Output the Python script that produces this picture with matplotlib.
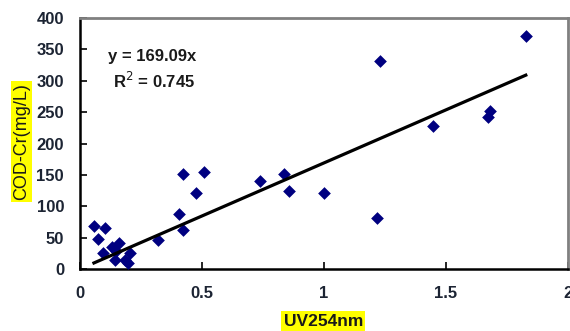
import matplotlib.pyplot as plt
import numpy as np

# UV254 absorbance vs COD-Cr (mg/L)
uv254 = [0.057, 0.102, 0.075, 0.096, 0.130, 0.161, 0.148, 0.143, 0.184, 0.205,
         0.198, 0.321, 0.406, 0.424, 0.424, 0.508, 0.474, 0.738, 0.837, 0.857,
         1.000, 1.219, 1.230, 1.448, 1.680, 1.671, 1.827]
cod = [69, 66, 48, 25, 35, 41, 28, 15, 14, 26,
       10, 47, 88, 62, 151, 155, 121, 141, 152, 125,
       121, 81, 331, 228, 252, 242, 371]
slope = 169.09
r2 = 0.745

plt.rcParams['font.family'] = ['Liberation Sans', 'DejaVu Sans']

fig = plt.figure(figsize=(5.7, 3.31), dpi=100)
ax = fig.add_axes([0.1404, 0.1873, 0.8561, 0.7583])

ax.scatter(uv254, cod, marker='D', s=42, color='#000080', zorder=3, linewidths=0)

x_fit = np.array([min(uv254), max(uv254)])
ax.plot(x_fit, slope * x_fit, color='black', lw=2.3, zorder=4)

ax.set_xlim(0, 2)
ax.set_ylim(0, 400)
ax.set_xticks([0, 0.5, 1, 1.5, 2])
ax.set_xticklabels(['0', '0.5', '1', '1.5', '2'])
ax.set_yticks(range(0, 401, 50))

tick_color = '#1c2433'
ax.tick_params(direction='in', length=5, width=1.2, labelsize=12, colors='black',
               labelcolor=tick_color)
ax.tick_params(axis='y', pad=11.5)
ax.tick_params(axis='x', pad=12.5)
for lab in ax.get_xticklabels() + ax.get_yticklabels():
    lab.set_fontweight('bold')

for side in ['left', 'bottom']:
    ax.spines[side].set_color('black')
    ax.spines[side].set_linewidth(1.8)
for side in ['top', 'right']:
    ax.spines[side].set_color('#808080')
    ax.spines[side].set_linewidth(2)

ax.text(0.057, 0.845, f'y = {slope}x', transform=ax.transAxes, fontsize=12,
        fontweight='bold', color='#1a1a1a', va='center')
ax.text(0.068, 0.75, f'R$^2$ = {r2}', transform=ax.transAxes, fontsize=12,
        fontweight='bold', color='#1a1a1a', va='center')

fig.text(0.0377, 0.5725, 'COD-Cr(mg/L)', rotation=90, ha='center', va='center',
         fontsize=13, color='#1a1a1a',
         bbox=dict(boxstyle='square,pad=0.1', fc='#ffff00', ec='none'))
fig.text(0.567, 0.03, 'UV254nm', ha='center', va='center', fontsize=12.5,
         fontweight='bold', color='#1a1a1a',
         bbox=dict(boxstyle='square,pad=0.12', fc='#ffff00', ec='none'))

fig.savefig('out.png', dpi=100)
